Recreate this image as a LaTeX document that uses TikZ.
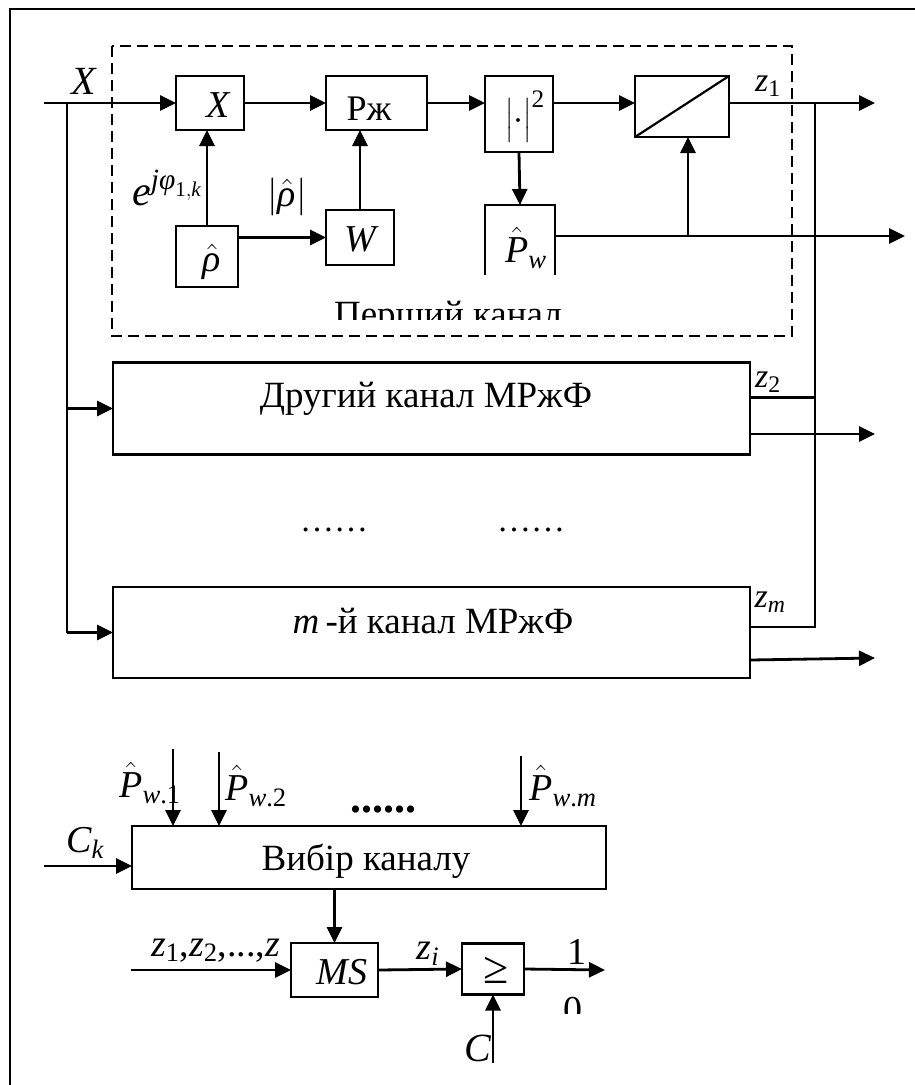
\RequirePackage{fix-cm}
\documentclass[tikz,border=0pt]{standalone}
\usepackage{amsmath}
\usepackage{fontspec}
\setmainfont{Liberation Serif}
\usetikzlibrary{arrows.meta}
\newcommand{\ti}[1]{\textit{#1}}
\begin{document}
\begin{tikzpicture}[x=1pt,y=-1pt,
  every node/.style={inner sep=0pt, outer sep=0pt},
  blk/.style={draw, line width=2.5pt, inner sep=0pt, fill=white},
  ln/.style={line width=2.8pt},
  arr/.style={line width=2.8pt, -{Triangle[length=16pt,width=15pt]}},
  big/.style={font=\fontsize{38}{42}\selectfont},
  frame/.style={line width=2pt},
  dsh/.style={line width=2pt, dash pattern=on 11pt off 6pt}]
\useasboundingbox (0,0) rectangle (915,1085);
% outer frame (only top and left visible)
\draw[frame] (10,1090) -- (10,9) -- (920,9);
% dashed first channel border
\draw[dsh] (112,46) rectangle (792,336);

% ---------- first channel ----------
\node[blk, minimum width=68pt, minimum height=54pt] (mult) at (210,103) {};
\node[big] (multL) at (219,105) {\ti{X}};
\node[blk, minimum width=101pt, minimum height=54pt] (rzh) at (376.5,103) {};
\node[font=\fontsize{36}{40}\selectfont] (rzhL) at (369,109) {Рж};
\node[blk, minimum width=68pt, minimum height=76pt] (sq) at (519,114) {};
\node[font=\fontsize{36}{40}\selectfont] (sqL) at (525,117) {$\bigl|\cdot\bigr|^{\text{2}}$};
\node[blk, minimum width=94pt, minimum height=61pt] (div) at (682,106.5) {};
\draw[line width=2.2pt] (div.south west) -- (div.north east);
\node[blk, minimum width=70pt, minimum height=90pt] (pw) at (520,250) {};
\node[big] (pwL) at (526,248) {$\hat{\ti{P}}_{\ti{w}}$};
\node[blk, minimum width=62pt, minimum height=61pt] (rho) at (207,256.5) {};
\node[big] (rhoL) at (212,262) {$\hat{\ti{ρ}}$};
\node[blk, minimum width=68pt, minimum height=55pt] (W) at (360,237.5) {};
\node[big] (WL) at (362,239) {\ti{W}};

\coordinate (in) at (44,103);
\coordinate (jx) at (67,103);
\coordinate (z1end) at (875,103);
\coordinate (zcol) at (815,103);
\coordinate (pwend) at (905,236);
\coordinate (br) at (688,236);

\draw[arr] (in) -- (mult.west);
\draw[arr] (mult.east) -- (rzh.west);
\draw[arr] (rzh.east) -- (rzh.east -| sq.west);
\draw[arr] (sq.east |- in) -- (div.west |- in);
\draw[arr] (div.east |- in) -- (z1end);
\draw[arr] (sq.south) -- (pw.north);
\draw[ln] (pw.east |- pwend) -- (br);
\draw[arr] (br) -- (pwend);
\draw[arr] (br) -- (br |- div.south);
\draw[arr] (rho.north) -- (rho.north |- mult.south);
\draw[arr] (rho.east |- W.west) -- (W.west);
\draw[arr] (W.north) -- (W.north |- rzh.south);

\node[font=\fontsize{40}{44}\selectfont] (XL) at (84,81) {\ti{X}};
\node[font=\fontsize{42}{46}\selectfont] (eL) at (167,188) {$\ti{e}^{\ti{jφ}_{\text{1},\ti{k}}}$};
\node[big] (absL) at (287,197) {$\lvert\hat{\ti{ρ}}\rvert$};
\node[font=\fontsize{34}{38}\selectfont] (z1L) at (768,86) {$\ti{z}_{\text{1}}$};

% caption of first channel, partly hidden
\fill[white] (318,275) rectangle (580,320);
\begin{scope}
\clip (318,275) rectangle (580,319);
\node[anchor=base, font=\fontsize{37}{40}\selectfont] (ch1) at (448,326) {Перший канал};
\end{scope}

% ---------- other channels ----------
\node[blk, minimum width=637pt, minimum height=92pt] (ch2) at (431.5,408.5) {};
\node[anchor=base, font=\fontsize{37}{40}\selectfont] (ch2L) at (426,407) {Другий канал МРжФ};
\node[blk, minimum width=637pt, minimum height=91pt] (chm) at (431.5,632.5) {};
\node[anchor=base, font=\fontsize{37}{40}\selectfont] (chmL) at (433,633) {\ti{m}\,-й канал МРжФ};

\draw[ln] (jx) -- (jx |- chm.west);
\draw[arr] (jx |- ch2.west) -- (ch2.west);
\draw[arr] (jx |- chm.west) -- (chm.west);

\draw[ln] ([yshift=11pt]ch2.east) -- ([yshift=11pt]ch2.east -| zcol);
\draw[ln] (zcol) -- ([yshift=5.5pt]chm.east -| zcol) -- ([yshift=5.5pt]chm.east);
\draw[arr] ([yshift=-25.5pt]ch2.east) -- ++(125,0);
\draw[arr] ([yshift=-27.5pt]chm.east) -- ++(125,-2);

\node[font=\fontsize{34}{38}\selectfont] (z2L) at (768,382) {$\ti{z}_{\text{2}}$};
\node[font=\fontsize{34}{38}\selectfont] (zmL) at (770,602) {$\ti{z}_{\ti{m}}$};
\node[anchor=base, font=\fontsize{34}{38}\selectfont] (dots1) at (334,531) {……};
\node[anchor=base, font=\fontsize{34}{38}\selectfont] (dots2) at (531,531) {……};

% ---------- channel selection ----------
\node[blk, minimum width=474pt, minimum height=63pt] (vib) at (369,857.5) {};
\node[anchor=base, font=\fontsize{37}{40}\selectfont] (vibL) at (366,870) {Вибір каналу};
\node[blk, minimum width=87pt, minimum height=54pt] (ms) at (334.5,970) {};
\node[big] (msL) at (342,972) {\ti{MS}};
\node[blk, minimum width=62pt, minimum height=51pt] (ge) at (493,969) {};
\node[font=\fontsize{46}{50}\selectfont] (geL) at (496,970) {≥};

\coordinate (ck) at (44,866);
\coordinate (p1) at (173,749);
\coordinate (p2) at (219,752);
\coordinate (pm) at (521,756);
\coordinate (zin) at (131,970);
\coordinate (oneend) at (605,970);
\coordinate (cin) at (493,1063);

\draw[arr] (ck) -- (ck -| vib.west);
\draw[arr] (p1) -- (p1 |- vib.north);
\draw[arr] (p2) -- (p2 |- vib.north);
\draw[arr] (pm) -- (pm |- vib.north);
\draw[arr] (ms.north |- vib.south) -- (ms.north);
\draw[arr] (zin) -- (ms.west);
\draw[arr] (ms.east) -- (ge.west);
\draw[arr] (ge.east) -- (oneend);
\draw[arr] (cin) -- (ge.south);

\node[big] (p1L) at (150,783) {$\hat{\ti{P}}_{\ti{w}\text{.1}}$};
\node[big] (p2L) at (256,786) {$\hat{\ti{P}}_{\ti{w}\text{.2}}$};
\node[anchor=base, font=\bfseries\fontsize{44}{48}\selectfont] (dots3) at (383,812) {......};
\node[big] (pmL) at (563,786) {$\hat{\ti{P}}_{\ti{w}\text{.}\ti{m}}$};
\node[big] (ckL) at (85,843) {$\ti{C}_{\ti{k}}$};
\node[anchor=base west, big] (zL) at (151,956) {$\ti{z}_{\text{1}}\text{,}\ti{z}_{\text{2}}\text{,...,}\ti{z}$};
\node[big] (ziL) at (428,954) {$\ti{z}_{\ti{i}}$};
\node[big] (oneL) at (577,952) {1};
\begin{scope}
\clip (540,990) rectangle (600,1013);
\node[big] (zeroL) at (573,1010) {0};
\end{scope}
\node[font=\fontsize{40}{44}\selectfont] (cL) at (478,1048) {\ti{C}};
\end{tikzpicture}
\end{document}
